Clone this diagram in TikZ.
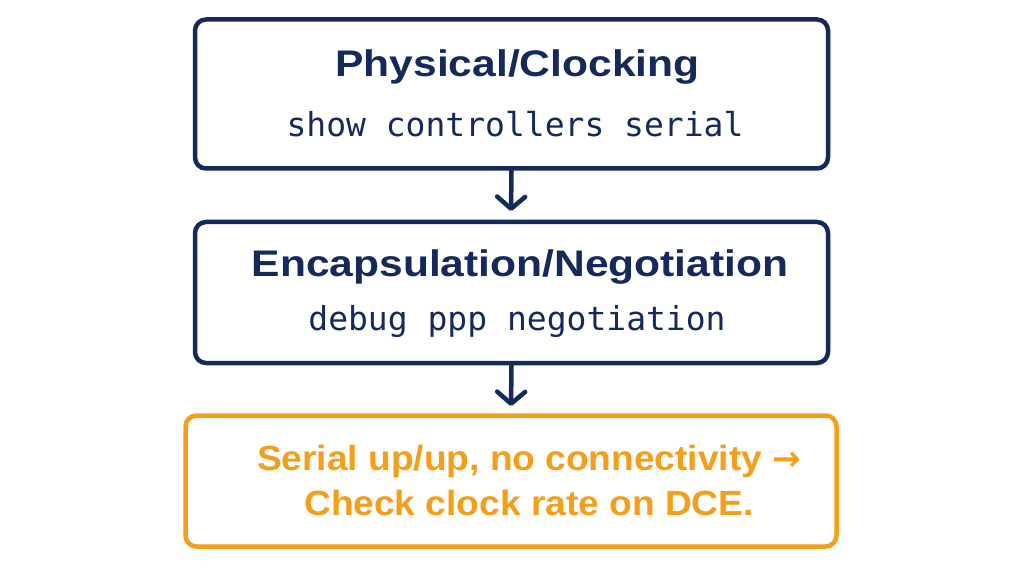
\documentclass[tikz,border=0pt]{standalone}
\usepackage{fontspec}
\setmainfont{Liberation Sans}
\newfontfamily\titlef[FakeStretch=1.15]{Liberation Sans Bold}
\newfontfamily\warnf[FakeStretch=1.06]{Liberation Sans Bold}
\newfontfamily\monof{DejaVu Sans Mono}
\newfontfamily\arrowf{DejaVu Sans Bold}
\usetikzlibrary{arrows.meta}
\definecolor{navy}{HTML}{15295C}
\definecolor{amber}{HTML}{F49E1A}
\tikzset{
  stagebox/.style={draw=navy, line width=4.5pt, rounded corners=11pt, fill=white},
  warnbox/.style={draw=amber, line width=4.5pt, rounded corners=11pt, fill=white},
  titletext/.style={text=navy, font=\fontsize{37}{40}\selectfont\titlef},
  cmdtext/.style={text=navy, font=\fontsize{33}{38}\selectfont\monof},
  warntext/.style={text=amber, font=\fontsize{35}{45}\selectfont\warnf, align=center},
  flow/.style={draw=navy, line width=4.5pt, line cap=round, -{Straight Barb[length=12pt,width=28pt,line width=4.5pt,round]}}
}
\begin{document}
\begin{tikzpicture}[x=1pt,y=-1pt]
\useasboundingbox (0,0) rectangle (1024,569);
\node[stagebox, minimum width=633pt, minimum height=149pt] (b1) at (511.5,94) {};
\node[stagebox, minimum width=633pt, minimum height=141pt] (b2) at (511.5,292.5) {};
\node[warnbox, minimum width=651pt, minimum height=131pt] (b3) at (511,481) {};
\node[titletext] (t1) at (517.5,67) {Physical/Clocking};
\node[cmdtext] (c1) at (515,124) {show controllers serial};
\node[titletext] (t2) at (520,267) {Encapsulation/Negotiation};
\node[cmdtext] (c2) at (517,322) {debug ppp negotiation};
\node[warntext] (w) at (529,480) {Serial up/up, no connectivity {\fontsize{34}{45}\selectfont\arrowf →}\\Check clock rate on DCE.};
\coordinate (a1e) at (511,211);
\coordinate (a2e) at (511,406);
\draw[flow] (b1.south) -- (a1e);
\draw[flow] (b2.south) -- (a2e);
\end{tikzpicture}
\end{document}
